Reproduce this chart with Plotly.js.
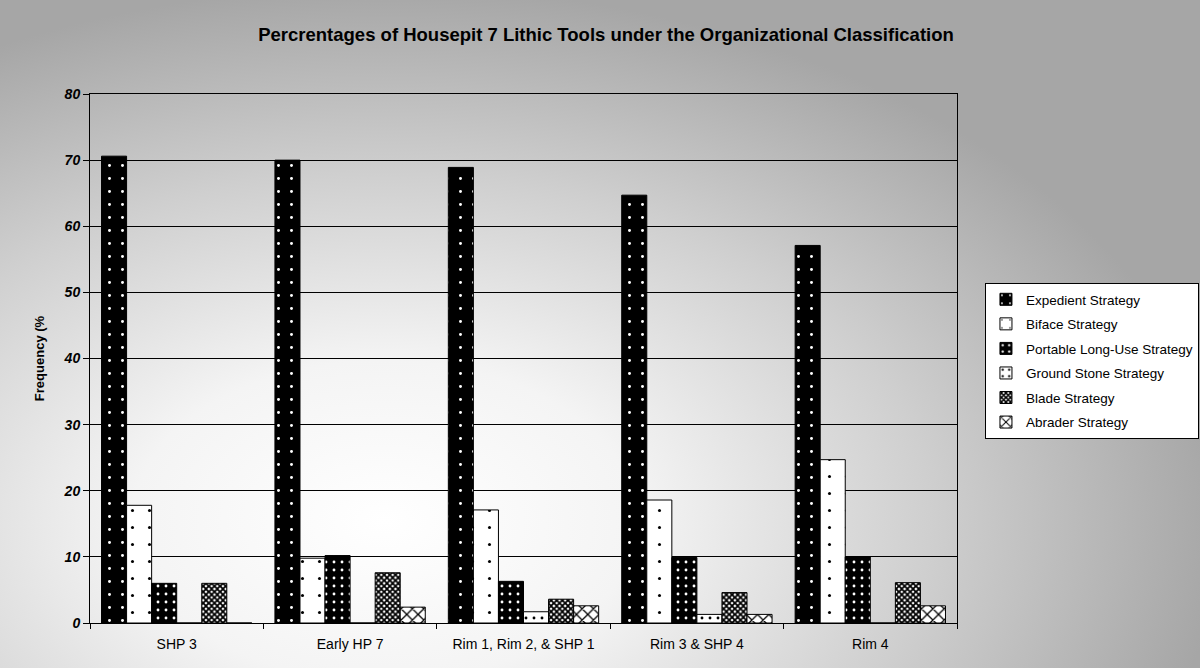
<!DOCTYPE html>
<html>
<head>
<meta charset="utf-8">
<script src="https://cdn.plot.ly/plotly-3.0.1.min.js"></script>
<style>
  html, body { margin: 0; padding: 0; }
  body {
    width: 1200px; height: 668px; overflow: hidden;
    background: radial-gradient(ellipse 70% 80% at 32% 78%, #ffffff 0%, #f4f4f4 30%, #cfcfcf 65%, #a6a6a6 100%);
  }
  #chart { width: 1200px; height: 668px; }
</style>
</head>
<body>
<div id="chart"></div>
<script>
const categories = ['SHP 3', 'Early HP 7', 'Rim 1, Rim 2, & SHP 1', 'Rim 3 & SHP 4', 'Rim 4'];
const seriesNames = ['Expedient Strategy', 'Biface Strategy', 'Portable Long-Use Strategy', 'Ground Stone Strategy', 'Blade Strategy', 'Abrader Strategy'];
const expedient   = [70.6, 70.0, 68.9, 64.7, 57.1];
const biface      = [17.8,  9.8, 17.1, 18.6, 24.7];
const portable    = [ 6.0, 10.2,  6.3,  9.9, 10.0];
const groundStone = [ 0.0,  0.0,  1.7,  1.3,  0.0];
const blade       = [ 6.0,  7.6,  3.6,  4.6,  6.1];
const abrader     = [ 0.0,  2.4,  2.6,  1.3,  2.6];
const yTicks = [0, 10, 20, 30, 40, 50, 60, 70, 80];

const seriesValues = [expedient, biface, portable, groundStone, blade, abrader];
const patterns = [
  {shape: '.', bgcolor: '#000000', fgcolor: '#ffffff', size: 13, solidity: 0.04},
  {shape: '.', bgcolor: '#ffffff', fgcolor: '#000000', size: 17, solidity: 0.025},
  {shape: '.', bgcolor: '#000000', fgcolor: '#ffffff', size: 8,  solidity: 0.1},
  {shape: '.', bgcolor: '#ffffff', fgcolor: '#000000', size: 8,  solidity: 0.1},
  {shape: 'x', bgcolor: '#ffffff', fgcolor: '#000000', size: 4,  solidity: 0.7},
  {shape: 'x', bgcolor: '#ffffff', fgcolor: '#000000', size: 8,  solidity: 0.3}
];

const traces = seriesValues.map((vals, i) => ({
  type: 'bar',
  name: seriesNames[i],
  x: categories,
  y: vals,
  legendgroup: 'g' + i,
  marker: {
    color: patterns[i].bgcolor,
    line: {color: '#000000', width: 1},
    pattern: {
      shape: patterns[i].shape,
      fgcolor: patterns[i].fgcolor,
      bgcolor: patterns[i].bgcolor,
      size: patterns[i].size,
      solidity: patterns[i].solidity,
      fillmode: 'replace'
    }
  },
  hoverinfo: 'x+y+name'
}));

const layout = {
  width: 1200,
  height: 668,
  margin: {l: 90, r: 243, t: 94, b: 45},
  paper_bgcolor: 'rgba(0,0,0,0)',
  plot_bgcolor: 'rgba(0,0,0,0)',
  font: {family: '"Liberation Sans", Arial, sans-serif', color: '#000000'},
  title: {
    text: 'Percrentages of Housepit 7 Lithic Tools under the Organizational Classification',
    font: {size: 18.5, weight: 'bold', color: '#000000'},
    x: 0.505, xanchor: 'center',
    y: 0.948, yanchor: 'middle'
  },
  barmode: 'group',
  bargap: 0.133,
  bargroupgap: 0,
  xaxis: {
    type: 'category',
    showline: true, linecolor: '#000000', linewidth: 1, mirror: true,
    ticks: 'outside', ticklen: 5, tickcolor: '#000000', tickson: 'boundaries',
    tickfont: {size: 14},
    ticklabelstandoff: 8,
    showgrid: false
  },
  yaxis: {
    range: [0, 80],
    tickvals: yTicks,
    showline: true, linecolor: '#000000', linewidth: 1, mirror: true,
    ticks: 'outside', ticklen: 6, tickcolor: '#000000',
    tickfont: {size: 14, weight: 'bold', style: 'italic'},
    showgrid: true, gridcolor: '#000000', gridwidth: 1,
    zeroline: true, zerolinecolor: '#000000', zerolinewidth: 1,
    title: {text: 'Frequency (%', font: {size: 13, weight: 'bold'}, standoff: 16}
  },
  legend: {
    xref: 'container', yref: 'container',
    x: 0.8208, xanchor: 'left',
    y: 0.5763, yanchor: 'top',
    bgcolor: '#ffffff',
    bordercolor: '#000000', borderwidth: 1,
    font: {size: 13.5},
    traceorder: 'grouped',
    tracegroupgap: 4,
    itemwidth: 30
  },
  showlegend: true
};

Plotly.newPlot('chart', traces, layout, {displayModeBar: false, staticPlot: true});
</script>
</body>
</html>
